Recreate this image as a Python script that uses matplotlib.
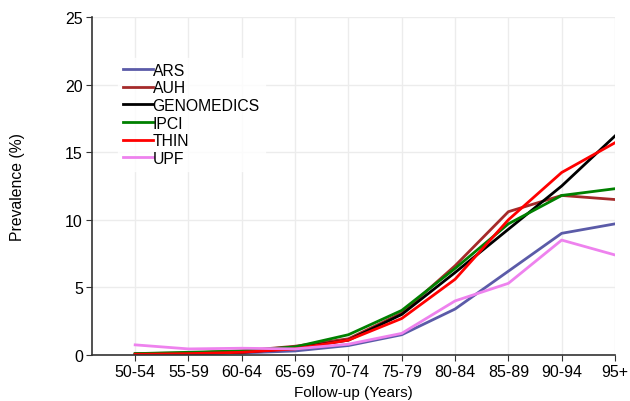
import numpy as np
import matplotlib
matplotlib.use("Agg")
import matplotlib.pyplot as plt

plt.rcParams['font.family'] = ['Liberation Sans', 'DejaVu Sans']

# age bands on the x axis
age_bands = ['50-54', '55-59', '60-64', '65-69', '70-74', '75-79', '80-84', '85-89', '90-94', '95+']

# prevalence (%) per database
ars = [0.05, 0.1, 0.15, 0.3, 0.7, 1.5, 3.4, 6.2, 9.0, 9.7]
auh = [0.1, 0.15, 0.3, 0.65, 1.2, 3.1, 6.6, 10.6, 11.8, 11.5]
genomedics = [0.05, 0.1, 0.2, 0.5, 1.1, 3.0, 6.1, 9.3, 12.5, 16.2]
ipci = [0.1, 0.2, 0.3, 0.6, 1.5, 3.3, 6.4, 9.7, 11.8, 12.3]
thin = [0.05, 0.1, 0.2, 0.45, 1.1, 2.7, 5.6, 10.0, 13.5, 15.7]
upf = [0.75, 0.45, 0.5, 0.45, 0.8, 1.6, 4.0, 5.3, 8.5, 7.4]

series = [
    ('ARS', ars, '#5b5ba8'),
    ('AUH', auh, '#a52a2a'),
    ('GENOMEDICS', genomedics, '#000000'),
    ('IPCI', ipci, '#008000'),
    ('THIN', thin, '#ff0000'),
    ('UPF', upf, '#ee82ee'),
]

fig = plt.figure(figsize=(6.3, 4.02), dpi=100)
ax = fig.add_axes([92 / 630, 46 / 402, 523 / 630, 338 / 402])

x = np.arange(len(age_bands))
for name, vals, col in series:
    ax.plot(x, vals, color=col, lw=2, label=name)

ax.set_xlim(-0.81, 9)
ax.set_ylim(0, 25)
ax.set_xticks(x)
ax.set_xticklabels(age_bands)
ax.set_yticks([0, 5, 10, 15, 20, 25])
ax.grid(True, color='#ececec', lw=1)
ax.set_axisbelow(True)
for s in ['top', 'right']:
    ax.spines[s].set_visible(False)
for s in ['left', 'bottom']:
    ax.spines[s].set_color('#333333')
    ax.spines[s].set_linewidth(1.2)
ax.tick_params(labelsize=11.5, length=4.5, color='#333333', pad=2)
ax.set_xlabel('Follow-up (Years)', fontsize=11)
ax.set_ylabel('Prevalence (%)', fontsize=11.3)
ax.yaxis.set_label_coords(-0.128, 0.5)

leg = ax.legend(loc='upper left', bbox_to_anchor=(0.05, 0.879), frameon=True,
                fontsize=11.3, handlelength=1.9, handletextpad=0.0,
                labelspacing=0.17, borderpad=0.3, borderaxespad=0,
                fancybox=False)
leg.get_frame().set_edgecolor('white')
leg.get_frame().set_facecolor('white')

fig.savefig('out.png', dpi=100)
